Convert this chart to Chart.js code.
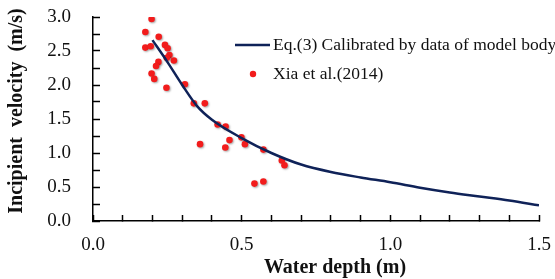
<!DOCTYPE html>
<html>
<head>
<meta charset="utf-8">
<script src="https://cdn.jsdelivr.net/npm/chart.js@4/dist/chart.umd.min.js"></script>
<style>
	html, body { margin: 0; padding: 0; background: #fff; }
	#wrap { width: 555px; height: 279px; }
</style>
</head>
<body>
<div id="wrap"><canvas id="chart1" width="555" height="279"></canvas></div>
<script>
// Eq.(3) curve
var curveDepth = [0.2, 0.25, 0.3, 0.35, 0.4, 0.5, 0.6, 0.7, 0.8, 0.9, 1.0, 1.1, 1.2, 1.3, 1.4, 1.5];
var curveVelocity = [2.66, 2.34, 2.0, 1.69, 1.49, 1.22, 1.0, 0.83, 0.72, 0.64, 0.57, 0.49, 0.42, 0.36, 0.30, 0.23];

// Xia et al.(2014) measurements
var xiaDepth = [0.197, 0.176, 0.176, 0.194, 0.221, 0.242, 0.251, 0.257, 0.248, 0.272,
	0.220, 0.212, 0.197, 0.206, 0.247, 0.309, 0.339, 0.376, 0.419, 0.446,
	0.360, 0.445, 0.459, 0.499, 0.511, 0.573, 0.635, 0.644, 0.543, 0.573];
var xiaVelocity = [2.97, 2.78, 2.55, 2.57, 2.71, 2.59, 2.54, 2.44, 2.40, 2.36,
	2.34, 2.28, 2.17, 2.09, 1.96, 2.01, 1.73, 1.73, 1.42, 1.39,
	1.13, 1.08, 1.19, 1.23, 1.13, 1.05, 0.89, 0.82, 0.55, 0.58];

var seriesLabels = ['Eq.(3) Calibrated by data of model body', 'Xia et al.(2014)'];
var xTitle = 'Water depth (m)';
var yTitle = 'Incipient  velocity  (m/s)';
var xStep = 0.1, yStep = 0.25;

function pairs(xs, ys) {
	return xs.map(function (x, i) { return { x: x, y: ys[i] }; });
}

var serif = "'Liberation Serif', 'Times New Roman', serif";
var lineColor = '#0f2258';
var dotColor = '#f21c1c';

// axis titles, legend and a soft shadow under the dots
var decorations = {
	id: 'decorations',
	beforeDatasetDraw: function (chart, args) {
		if (args.index === 1) {
			var ctx = chart.ctx;
			ctx.save();
			ctx.shadowColor = 'rgba(0,0,0,0.35)';
			ctx.shadowBlur = 2;
			ctx.shadowOffsetX = 1;
			ctx.shadowOffsetY = 1;
		}
	},
	afterDatasetDraw: function (chart, args) {
		if (args.index === 1) chart.ctx.restore();
	},
	afterDraw: function (chart) {
		var ctx = chart.ctx;
		var area = chart.chartArea;

		ctx.save();
		ctx.fillStyle = '#111';
		ctx.font = 'bold 20px ' + serif;
		ctx.textAlign = 'center';
		ctx.textBaseline = 'middle';
		ctx.fillText(xTitle, area.left + 242, area.bottom + 47);
		ctx.translate(17, area.top + 94);
		ctx.rotate(-Math.PI / 2);
		ctx.fillText(yTitle, 0, 0);
		ctx.restore();

		// legend
		ctx.save();
		var lx = area.left + 142, ly = area.top + 28;
		ctx.strokeStyle = lineColor;
		ctx.lineWidth = 2.5;
		ctx.beginPath();
		ctx.moveTo(lx, ly);
		ctx.lineTo(lx + 35, ly);
		ctx.stroke();
		ctx.fillStyle = dotColor;
		ctx.beginPath();
		ctx.arc(lx + 18, ly + 29, 3.2, 0, Math.PI * 2);
		ctx.fill();
		ctx.fillStyle = '#111';
		ctx.font = '17.5px ' + serif;
		ctx.textAlign = 'left';
		ctx.textBaseline = 'middle';
		ctx.fillText(seriesLabels[0], lx + 38, ly);
		ctx.fillText(seriesLabels[1], lx + 38, ly + 29);
		ctx.restore();
	}
};

// tick marks drawn by the scale itself, turned inward (negative length)
function inwardTicks(len) {
	return {
		display: true,
		drawOnChartArea: false,
		drawTicks: true,
		tickLength: -len,
		tickWidth: 1.5,
		tickColor: '#000',
		color: '#000'
	};
}

var ctx = document.getElementById('chart1').getContext('2d');
new Chart(ctx, {
	type: 'scatter',
	data: {
		datasets: [{
			type: 'line',
			label: seriesLabels[0],
			data: pairs(curveDepth, curveVelocity),
			borderColor: lineColor,
			borderWidth: 2.5,
			pointRadius: 0,
			fill: false,
			cubicInterpolationMode: 'monotone'
		}, {
			label: seriesLabels[1],
			data: pairs(xiaDepth, xiaVelocity),
			backgroundColor: dotColor,
			borderColor: dotColor,
			borderWidth: 0,
			pointRadius: 3.3
		}]
	},
	options: {
		responsive: false,
		animation: false,
		layout: { padding: { left: 0, top: 17, right: 16, bottom: 0 } },
		plugins: {
			legend: { display: false },
			tooltip: { enabled: false }
		},
		scales: {
			x: {
				type: 'linear',
				min: 0,
				max: 1.5,
				afterFit: function (s) {
					s.height = 58;
					s.paddingLeft = 0;
					s.paddingRight = 0;
				},
				grid: inwardTicks(6),
				border: { display: true, color: '#000', width: 1.5 },
				ticks: {
					stepSize: xStep,
					autoSkip: false,
					maxRotation: 0,
					padding: 19,
					color: '#111',
					font: { family: serif, size: 19 },
					callback: function (v) {
						return Math.round(v * 10) % 5 === 0 ? v.toFixed(1) : '';
					}
				}
			},
			y: {
				min: 0,
				max: 3,
				afterFit: function (s) {
					s.width = 93;
					s.paddingTop = 0;
					s.paddingBottom = 0;
				},
				grid: inwardTicks(7),
				border: { display: true, color: '#000', width: 1.5 },
				ticks: {
					stepSize: yStep,
					autoSkip: false,
					padding: 29,
					color: '#111',
					font: { family: serif, size: 19 },
					callback: function (v) {
						return Math.round(v * 100) % 50 === 0 ? v.toFixed(1) : '';
					}
				}
			}
		}
	},
	plugins: [decorations]
});
</script>
</body>
</html>
